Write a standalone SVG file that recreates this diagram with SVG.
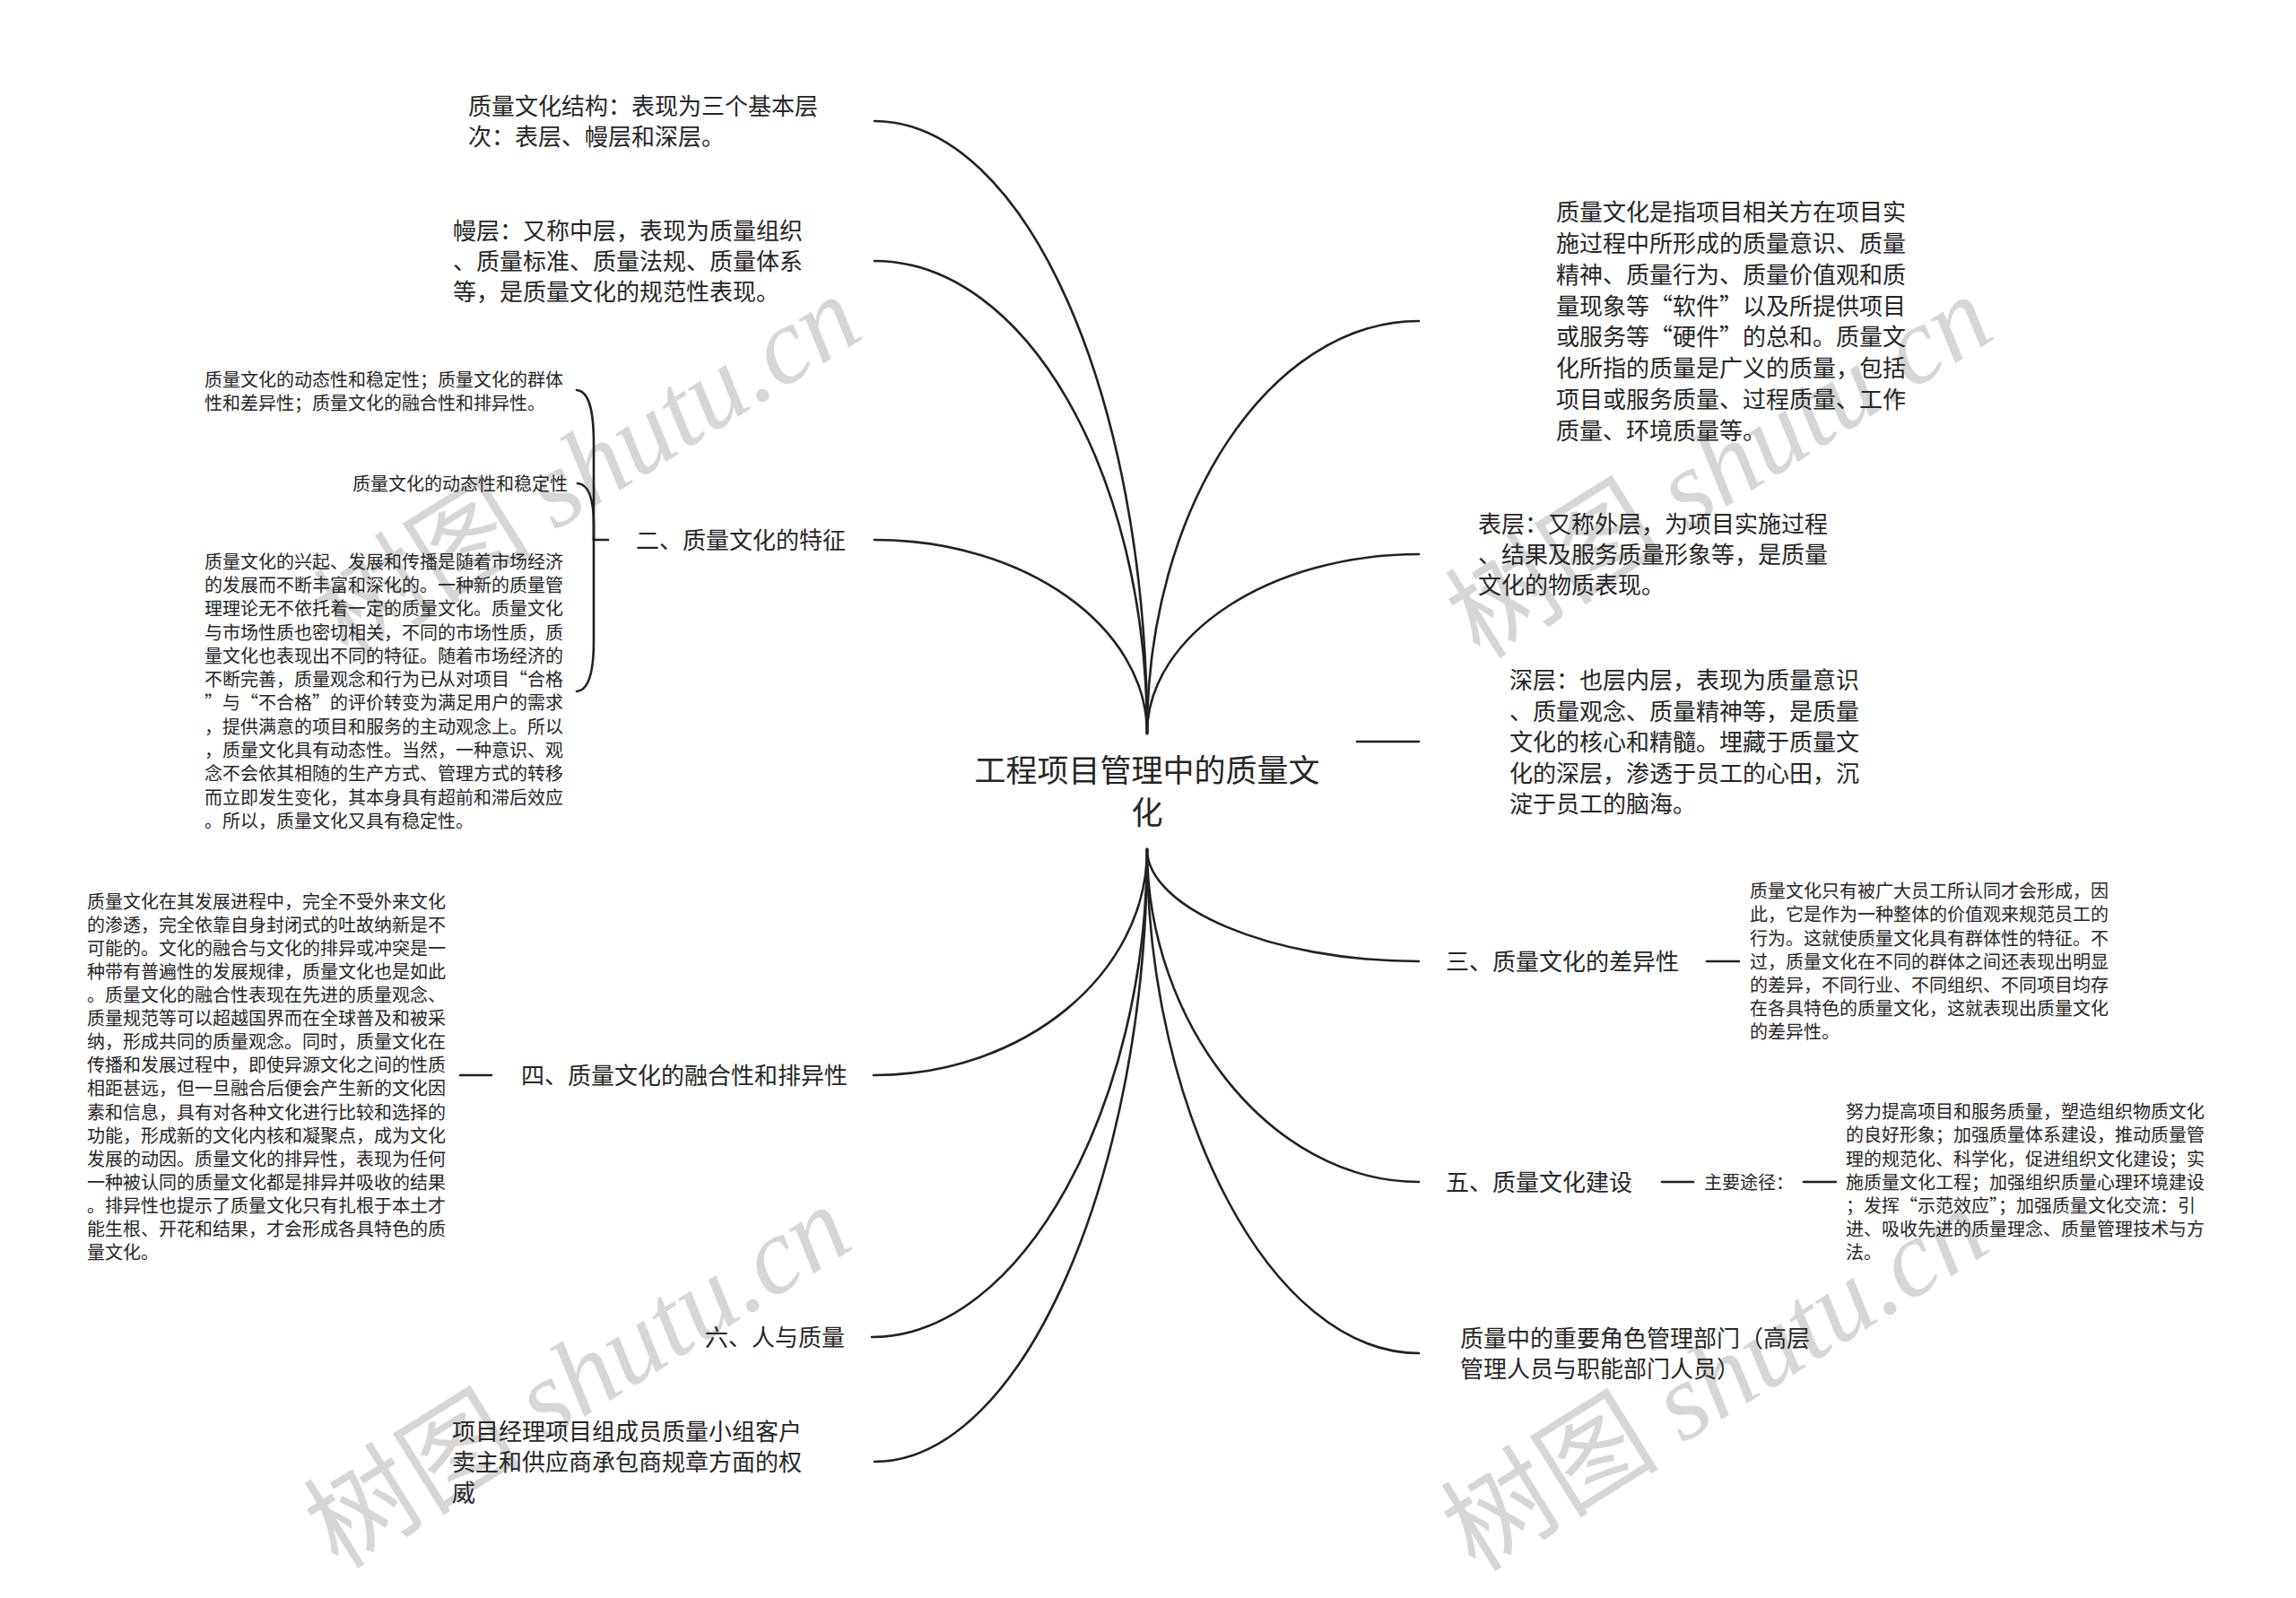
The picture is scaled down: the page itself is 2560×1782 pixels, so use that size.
<svg xmlns="http://www.w3.org/2000/svg" width="2560" height="1782" viewBox="0 0 2560 1782">
<style>
text{font-family:"Noto Sans CJK SC","Noto Sans CJK TC",sans-serif;fill:#262626}
.root{font-size:35px}
.t1{font-size:26px}
.t2{font-size:20px}
.wm{font-size:122px;fill:#d6d6d6}
.wm .lat{font-family:"Liberation Serif",serif;font-style:italic}
.c{fill:none;stroke:#222;stroke-width:2.6;stroke-linecap:round}
</style>
<rect width="2560" height="1782" fill="#fff"/>
<g id="watermarks">
<text class="wm" x="655" y="562" text-anchor="middle" transform="rotate(-32 655 520)">树图 <tspan class="lat">shutu.cn</tspan></text>
<text class="wm" x="1917" y="562" text-anchor="middle" transform="rotate(-32 1917 520)">树图 <tspan class="lat">shutu.cn</tspan></text>
<text class="wm" x="644" y="1577" text-anchor="middle" transform="rotate(-32 644 1535)">树图 <tspan class="lat">shutu.cn</tspan></text>
<text class="wm" x="1912" y="1580" text-anchor="middle" transform="rotate(-32 1912 1538)">树图 <tspan class="lat">shutu.cn</tspan></text>
</g>
<g id="connectors">
<path class="c" d="M1279 818 C1279 441 1143 135 975 135"/>
<path class="c" d="M1279 818 C1279 527 1143 291 975 291"/>
<path class="c" d="M1279 818 C1279 699 1143 602 975 602"/>
<path class="c" d="M1279 818 C1279 565 1416 358 1582 358"/>
<path class="c" d="M1279 818 C1279 708 1416 618 1582 618"/>
<path class="c" d="M1513 827 H1582"/>
<path class="c" d="M1279 947 C1279 1086 1142 1199 974 1199"/>
<path class="c" d="M1279 947 C1279 1230 1141 1491 972 1491"/>
<path class="c" d="M1279 947 C1279 1302 1143 1630 975 1630"/>
<path class="c" d="M1279 947 C1279 1012 1416 1072 1582 1072"/>
<path class="c" d="M1279 947 C1279 1140 1416 1318 1582 1318"/>
<path class="c" d="M1279 947 C1279 1239 1416 1509 1582 1509"/>
<path class="c" d="M678 602 H662"/>
<path class="c" d="M662 602 V495 C662 455 656 436 643 435"/>
<path class="c" d="M662 602 V585 C662 556 656 540 644 539"/>
<path class="c" d="M662 602 V715 C662 752 656 770 643 771"/>
<path class="c" d="M548 1199 H513"/>
<path class="c" d="M1903 1072 H1939"/>
<path class="c" d="M1853 1318 H1888"/>
<path class="c" d="M2011 1318 H2047"/>
</g>
<g id="root">
<text class="root" x="1279" y="872" text-anchor="middle">工程项目管理中的质量文</text>
<text class="root" x="1279" y="919" text-anchor="middle">化</text>
</g>
<g id="n-structure">
<text class="t1" x="522" y="128">质量文化结构：表现为三个基本层</text>
<text class="t1" x="522" y="162">次：表层、幔层和深层。</text>
</g>
<g id="n-middle">
<text class="t1" x="505" y="267">幔层：又称中层，表现为质量组织</text>
<text class="t1" x="505" y="301">、质量标准、质量法规、质量体系</text>
<text class="t1" x="505" y="335">等，是质量文化的规范性表现。</text>
</g>
<g id="n-features">
<text class="t1" x="709" y="612">二、质量文化的特征</text>
</g>
<g id="n-features-a">
<text class="t2" x="228" y="430.6">质量文化的动态性和稳定性；质量文化的群体</text>
<text class="t2" x="228" y="456.6">性和差异性；质量文化的融合性和排异性。</text>
</g>
<g id="n-features-b">
<text class="t2" x="633" y="546.6" text-anchor="end">质量文化的动态性和稳定性</text>
</g>
<g id="n-features-c">
<text class="t2" x="228" y="633.6">质量文化的兴起、发展和传播是随着市场经济</text>
<text class="t2" x="228" y="659.9">的发展而不断丰富和深化的。一种新的质量管</text>
<text class="t2" x="228" y="686.2">理理论无不依托着一定的质量文化。质量文化</text>
<text class="t2" x="228" y="712.5">与市场性质也密切相关，不同的市场性质，质</text>
<text class="t2" x="228" y="738.8">量文化也表现出不同的特征。随着市场经济的</text>
<text class="t2" x="228" y="765.1">不断完善，质量观念和行为已从对项目“合格</text>
<text class="t2" x="228" y="791.4">”与“不合格”的评价转变为满足用户的需求</text>
<text class="t2" x="228" y="817.7">，提供满意的项目和服务的主动观念上。所以</text>
<text class="t2" x="228" y="844.0">，质量文化具有动态性。当然，一种意识、观</text>
<text class="t2" x="228" y="870.3">念不会依其相随的生产方式、管理方式的转移</text>
<text class="t2" x="228" y="896.6">而立即发生变化，其本身具有超前和滞后效应</text>
<text class="t2" x="228" y="922.9">。所以，质量文化又具有稳定性。</text>
</g>
<g id="n-fusion">
<text class="t1" x="581" y="1209">四、质量文化的融合性和排异性</text>
</g>
<g id="n-fusion-detail">
<text class="t2" x="97" y="1012.6">质量文化在其发展进程中，完全不受外来文化</text>
<text class="t2" x="97" y="1038.7">的渗透，完全依靠自身封闭式的吐故纳新是不</text>
<text class="t2" x="97" y="1064.8">可能的。文化的融合与文化的排异或冲突是一</text>
<text class="t2" x="97" y="1090.9">种带有普遍性的发展规律，质量文化也是如此</text>
<text class="t2" x="97" y="1117.0">。质量文化的融合性表现在先进的质量观念、</text>
<text class="t2" x="97" y="1143.1">质量规范等可以超越国界而在全球普及和被采</text>
<text class="t2" x="97" y="1169.2">纳，形成共同的质量观念。同时，质量文化在</text>
<text class="t2" x="97" y="1195.3">传播和发展过程中，即使异源文化之间的性质</text>
<text class="t2" x="97" y="1221.4">相距甚远，但一旦融合后便会产生新的文化因</text>
<text class="t2" x="97" y="1247.5">素和信息，具有对各种文化进行比较和选择的</text>
<text class="t2" x="97" y="1273.6">功能，形成新的文化内核和凝聚点，成为文化</text>
<text class="t2" x="97" y="1299.7">发展的动因。质量文化的排异性，表现为任何</text>
<text class="t2" x="97" y="1325.8">一种被认同的质量文化都是排异并吸收的结果</text>
<text class="t2" x="97" y="1351.9">。排异性也提示了质量文化只有扎根于本土才</text>
<text class="t2" x="97" y="1378.0">能生根、开花和结果，才会形成各具特色的质</text>
<text class="t2" x="97" y="1404.1">量文化。</text>
</g>
<g id="n-people">
<text class="t1" x="786" y="1501">六、人与质量</text>
</g>
<g id="n-roles">
<text class="t1" x="504" y="1606">项目经理项目组成员质量小组客户</text>
<text class="t1" x="504" y="1640">卖主和供应商承包商规章方面的权</text>
<text class="t1" x="504" y="1674">威</text>
</g>
<g id="n-definition">
<text class="t1" x="1735" y="246.1">质量文化是指项目相关方在项目实</text>
<text class="t1" x="1735" y="280.9">施过程中所形成的质量意识、质量</text>
<text class="t1" x="1735" y="315.7">精神、质量行为、质量价值观和质</text>
<text class="t1" x="1735" y="350.5">量现象等“软件”以及所提供项目</text>
<text class="t1" x="1735" y="385.3">或服务等“硬件”的总和。质量文</text>
<text class="t1" x="1735" y="420.1">化所指的质量是广义的质量，包括</text>
<text class="t1" x="1735" y="454.9">项目或服务质量、过程质量、工作</text>
<text class="t1" x="1735" y="489.7">质量、环境质量等。</text>
</g>
<g id="n-surface">
<text class="t1" x="1648" y="594">表层：又称外层，为项目实施过程</text>
<text class="t1" x="1648" y="628">、结果及服务质量形象等，是质量</text>
<text class="t1" x="1648" y="662">文化的物质表现。</text>
</g>
<g id="n-deep">
<text class="t1" x="1683" y="768">深层：也层内层，表现为质量意识</text>
<text class="t1" x="1683" y="802.5">、质量观念、质量精神等，是质量</text>
<text class="t1" x="1683" y="837">文化的核心和精髓。埋藏于质量文</text>
<text class="t1" x="1683" y="871.5">化的深层，渗透于员工的心田，沉</text>
<text class="t1" x="1683" y="906">淀于员工的脑海。</text>
</g>
<g id="n-difference">
<text class="t1" x="1612" y="1082">三、质量文化的差异性</text>
</g>
<g id="n-difference-detail">
<text class="t2" x="1951" y="1001.3">质量文化只有被广大员工所认同才会形成，因</text>
<text class="t2" x="1951" y="1027.4">此，它是作为一种整体的价值观来规范员工的</text>
<text class="t2" x="1951" y="1053.5">行为。这就使质量文化具有群体性的特征。不</text>
<text class="t2" x="1951" y="1079.6">过，质量文化在不同的群体之间还表现出明显</text>
<text class="t2" x="1951" y="1105.7">的差异，不同行业、不同组织、不同项目均存</text>
<text class="t2" x="1951" y="1131.8">在各具特色的质量文化，这就表现出质量文化</text>
<text class="t2" x="1951" y="1157.9">的差异性。</text>
</g>
<g id="n-build">
<text class="t1" x="1612" y="1328">五、质量文化建设</text>
</g>
<g id="n-build-ways">
<text class="t2" x="1900" y="1325.6">主要途径：</text>
</g>
<g id="n-build-detail">
<text class="t2" x="2058" y="1247.3">努力提高项目和服务质量，塑造组织物质文化</text>
<text class="t2" x="2058" y="1273.4">的良好形象；加强质量体系建设，推动质量管</text>
<text class="t2" x="2058" y="1299.5">理的规范化、科学化，促进组织文化建设；实</text>
<text class="t2" x="2058" y="1325.6">施质量文化工程；加强组织质量心理环境建设</text>
<text class="t2" x="2058" y="1351.7">；发挥“示范效应”；加强质量文化交流：引</text>
<text class="t2" x="2058" y="1377.8">进、吸收先进的质量理念、质量管理技术与方</text>
<text class="t2" x="2058" y="1403.9">法。</text>
</g>
<g id="n-key-roles">
<text class="t1" x="1628" y="1502">质量中的重要角色管理部门（高层</text>
<text class="t1" x="1628" y="1536">管理人员与职能部门人员）</text>
</g>
</svg>
